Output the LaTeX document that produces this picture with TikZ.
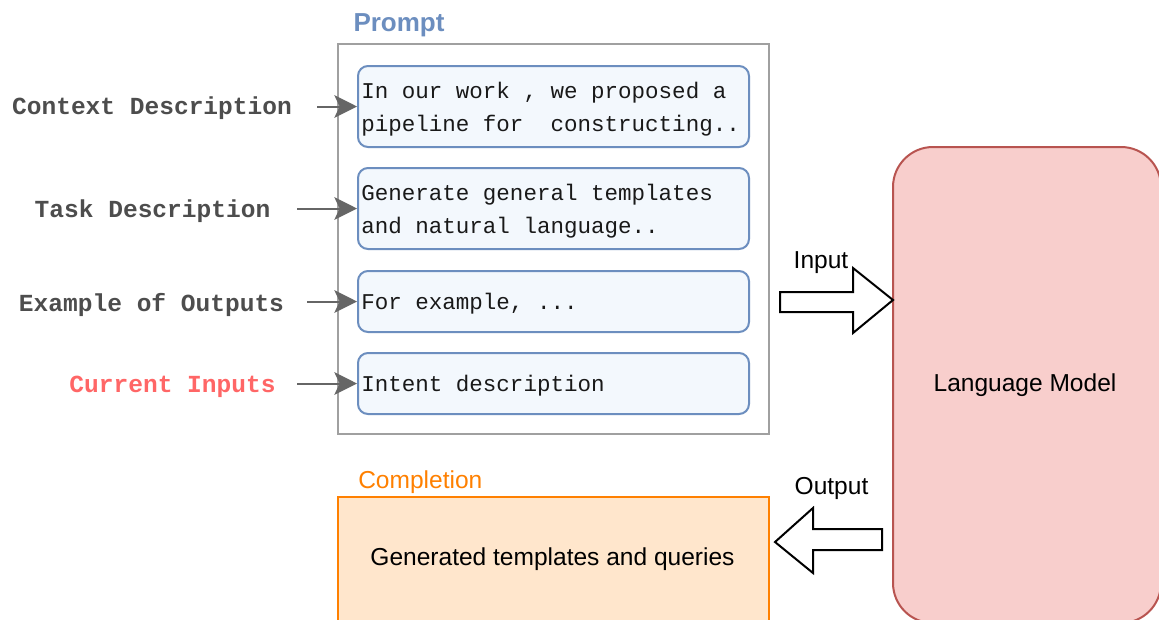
\documentclass[tikz,border=0pt]{standalone}
\usepackage{fontspec}
\setmainfont{Liberation Sans}
\setsansfont{Liberation Sans}
\setmonofont{Liberation Mono}
\usetikzlibrary{arrows.meta}
\definecolor{promptblue}{HTML}{6C8EBF}
\definecolor{boxfill}{HTML}{F3F8FD}
\definecolor{framegray}{HTML}{A0A0A0}
\definecolor{labelgray}{HTML}{4D4D4D}
\definecolor{arrowgray}{HTML}{666666}
\definecolor{curred}{HTML}{FF6666}
\definecolor{lmfill}{HTML}{F8CECC}
\definecolor{lmdraw}{HTML}{B85450}
\definecolor{compfill}{HTML}{FFE6CC}
\definecolor{compdraw}{HTML}{FF8000}
\tikzset{
  promptframe/.style={draw=framegray, line width=1.5pt, fill=white, inner sep=0pt},
  pbox/.style={draw=promptblue, fill=boxfill, line width=1.5pt, rounded corners=7.5pt,
    minimum width={391*0.75pt}, inner sep=0pt},
  boxtext/.style={anchor=west, inner sep=0pt, text=black!90,
    font=\fontsize{16.9}{24.75}\selectfont\ttfamily},
  lbl/.style={inner sep=0pt, text=labelgray, font=\fontsize{18.4}{22}\selectfont\ttfamily\bfseries},
  conn/.style={draw=arrowgray, line width=1.5pt, -{Stealth[length=17pt, width=17pt, inset=4pt]}},
  sans/.style={inner sep=0pt, font=\fontsize{18.4}{22}\selectfont\sffamily},
  lmbox/.style={draw=lmdraw, fill=lmfill, line width=1.5pt, rounded corners=30pt, inner sep=0pt},
  compbox/.style={draw=compdraw, fill=compfill, line width=1.5pt, inner sep=0pt},
  blockarrow/.style={draw=black, fill=white, line width=1.5pt, line join=miter}
}
\begin{document}
\begin{tikzpicture}[x=0.75pt,y=-0.75pt]
\useasboundingbox (0,0) rectangle (1159,619);

% Prompt frame
\node[promptframe, minimum width={431*0.75pt}, minimum height={390*0.75pt}] (prompt) at (553.5,239) {};
\node[inner sep=0pt, text=promptblue, font=\fontsize{19.5}{22}\selectfont\sffamily\bfseries] (promptlbl) at (399,25.5) {Prompt};

% Inner boxes
\node[pbox, minimum height={81*0.75pt}] (b1) at (553.5,106.5) {};
\node[pbox, minimum height={81*0.75pt}] (b2) at (553.5,208.5) {};
\node[pbox, minimum height={61*0.75pt}] (b3) at (553.5,301.5) {};
\node[pbox, minimum height={61*0.75pt}] (b4) at (553.5,383.5) {};
\node[boxtext] (t1) at ([xshift=3pt,yshift=-1.5pt]b1.west) {\begin{tabular}{@{}l@{}}In our work , we proposed a\\pipeline for\ \ constructing..\end{tabular}};
\node[boxtext] (t2) at ([xshift=3pt,yshift=-1.5pt]b2.west) {\begin{tabular}{@{}l@{}}Generate general templates\\and natural language..\end{tabular}};
\node[boxtext] (t3) at ([xshift=3pt,yshift=-1.5pt]b3.west) {For example, ...};
\node[boxtext] (t4) at ([xshift=3pt,yshift=-1.5pt]b4.west) {Intent description};

% Left labels
\node[lbl] (l1) at (152,108.5) {Context Description};
\node[lbl] (l2) at (152.5,211.5) {Task Description};
\node[lbl] (l3) at (151.5,304.5) {Example of Outputs};
\node[lbl, text=curred] (l4) at (172.5,386.5) {Current Inputs};

\coordinate (s1) at (317,106.5);
\coordinate (s2) at (297,208.5);
\coordinate (s3) at (307,301.5);
\coordinate (s4) at (297,383.5);
\draw[conn] (s1) -- (b1.west);
\draw[conn] (s2) -- (b2.west);
\draw[conn] (s3) -- (b3.west);
\draw[conn] (s4) -- (b4.west);

% Language model
\node[lmbox, minimum width={268*0.75pt}, minimum height={476*0.75pt}] (lm) at (1027,385) {};
\node[sans] (lmtext) at (1025,385.5) {Language Model};

% Completion
\node[compbox, minimum width={431*0.75pt}, minimum height={130*0.75pt}] (comp) at (553.5,562) {};
\node[sans] (comptext) at (552.5,559.5) {Generated templates and queries};
\node[sans, text=compdraw, anchor=west] (complbl) at (358,482.5) {Completion};

% Block arrows
\draw[blockarrow] (780,292) -- (853,292) -- (853,268) -- (893,300) -- (853,333) -- (853,312) -- (780,312) -- cycle;
\draw[blockarrow] (882,529) -- (813,529) -- (813,508) -- (775,542) -- (813,573) -- (813,550) -- (882,550) -- cycle;
\node[sans] (inlbl) at (821,262.5) {Input};
\node[sans] (outlbl) at (831.5,488.5) {Output};
\end{tikzpicture}
\end{document}
